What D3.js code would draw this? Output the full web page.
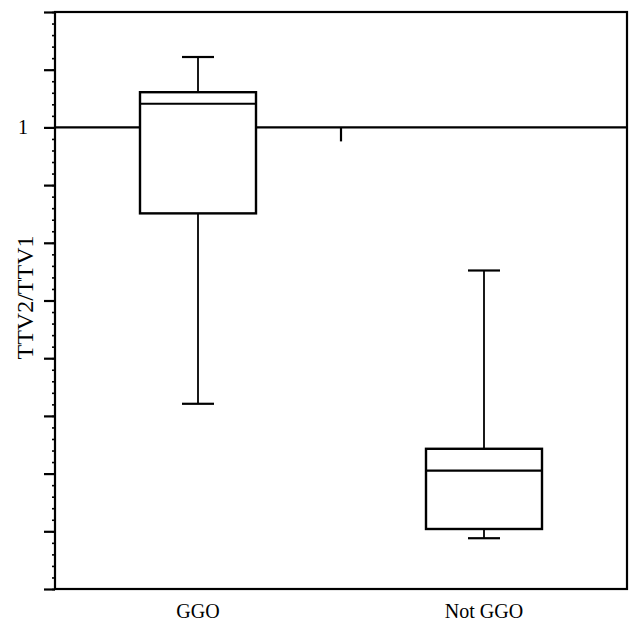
<!DOCTYPE html>
<html>
<head>
<meta charset="utf-8">
<script src="https://cdn.jsdelivr.net/npm/d3@7"></script>
<style>
  html, body { margin: 0; padding: 0; background: #fff; }
  svg text { font-family: "Liberation Serif", "DejaVu Serif", serif; fill: #000; }
</style>
</head>
<body>
<svg id="chart" width="633" height="623"></svg>
<script>
// ---- data ----
const categories = ["GGO", "Not GGO"];
const whiskerLow  = [0.521, 0.288];
const q1          = [0.851, 0.304];
const median      = [1.041, 0.405];
const q3          = [1.061, 0.443];
const whiskerHigh = [1.122, 0.752];
const yDomain = [0.2, 1.2];
const majorTicks = [0.2, 0.3, 0.4, 0.5, 0.6, 0.7, 0.8, 0.9, 1.0, 1.1, 1.2];
const tickLabels = { "1": "1" };
const referenceValue = 1.0;
const yTitle = "TTV2/TTV1";

// ---- layout ----
const svg = d3.select("#chart");
const L = 55, R = 627, T = 12, B = 589;

const y = d3.scaleLinear().domain(yDomain).range([B, T]);
const x = d3.scalePoint().domain(categories).range([L, R]).padding(0.5);

const boxW = 116, capW = 32;
const ink = "#000";

// minor ticks
const minorTicks = d3.range(0, 51).map(i => +(yDomain[0] + i * 0.02).toFixed(3));
const yMinor = d3.axisLeft(y).tickValues(minorTicks).tickSize(3).tickFormat("");
svg.append("g").attr("transform", `translate(${L},0)`).call(yMinor)
  .call(g => g.select(".domain").remove())
  .call(g => g.selectAll("line").attr("stroke", ink).attr("stroke-width", 1.6));

// major ticks
const yMajor = d3.axisLeft(y).tickValues(majorTicks).tickSize(11).tickPadding(16)
  .tickFormat(d => tickLabels[String(d)] || "");
svg.append("g").attr("transform", `translate(${L},0)`).call(yMajor)
  .call(g => g.select(".domain").remove())
  .call(g => g.selectAll("line").attr("stroke", ink).attr("stroke-width", 2.2))
  .call(g => g.selectAll("text").attr("font-size", 20).attr("fill", ink)
    .style("font-family", '"Liberation Serif", serif'));

// frame
svg.append("rect").attr("x", L).attr("y", T).attr("width", R - L).attr("height", B - T)
  .attr("fill", "none").attr("stroke", ink).attr("stroke-width", 2.2);

// reference line at 1
svg.append("line").attr("x1", L).attr("x2", R)
  .attr("y1", y(referenceValue)).attr("y2", y(referenceValue))
  .attr("stroke", ink).attr("stroke-width", 2.2);

// small separator tick between groups
const midX = (x(categories[0]) + x(categories[1])) / 2;
svg.append("line").attr("x1", midX).attr("x2", midX)
  .attr("y1", y(referenceValue)).attr("y2", y(referenceValue) + 14)
  .attr("stroke", ink).attr("stroke-width", 2.2);

// boxes
const data = categories.map((c, i) => ({
  c, lo: whiskerLow[i], q1: q1[i], med: median[i], q3: q3[i], hi: whiskerHigh[i]
}));
const g = svg.append("g").selectAll("g").data(data).join("g");

g.append("line").attr("x1", d => x(d.c)).attr("x2", d => x(d.c))
  .attr("y1", d => y(d.hi)).attr("y2", d => y(d.q3)).attr("stroke", ink).attr("stroke-width", 1.8);
g.append("line").attr("x1", d => x(d.c)).attr("x2", d => x(d.c))
  .attr("y1", d => y(d.q1)).attr("y2", d => y(d.lo)).attr("stroke", ink).attr("stroke-width", 1.8);
g.append("line").attr("x1", d => x(d.c) - capW / 2).attr("x2", d => x(d.c) + capW / 2)
  .attr("y1", d => y(d.hi)).attr("y2", d => y(d.hi)).attr("stroke", ink).attr("stroke-width", 2.2);
g.append("line").attr("x1", d => x(d.c) - capW / 2).attr("x2", d => x(d.c) + capW / 2)
  .attr("y1", d => y(d.lo)).attr("y2", d => y(d.lo)).attr("stroke", ink).attr("stroke-width", 2.2);
g.append("rect").attr("x", d => x(d.c) - boxW / 2).attr("width", boxW)
  .attr("y", d => y(d.q3)).attr("height", d => y(d.q1) - y(d.q3))
  .attr("fill", "#fff").attr("stroke", ink).attr("stroke-width", 2.4);
g.append("line").attr("x1", d => x(d.c) - boxW / 2).attr("x2", d => x(d.c) + boxW / 2)
  .attr("y1", d => y(d.med)).attr("y2", d => y(d.med)).attr("stroke", ink).attr("stroke-width", 2.2);

// x labels
svg.append("g").selectAll("text").data(categories).join("text")
  .attr("x", d => x(d)).attr("y", 618).attr("text-anchor", "middle")
  .attr("font-size", 20).text(d => d);

// y title
svg.append("text").attr("transform", `translate(33,${(T + B) / 2 - 3}) rotate(-90)`)
  .attr("text-anchor", "middle").attr("font-size", 24).text(yTitle);
</script>
</body>
</html>
